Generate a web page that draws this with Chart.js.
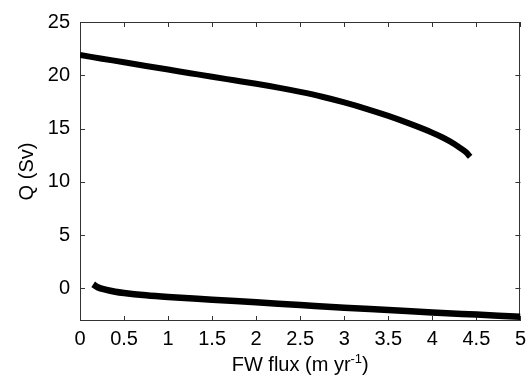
<!DOCTYPE html>
<html>
<head>
<meta charset="utf-8">
<script src="https://cdn.jsdelivr.net/npm/chart.js@4/dist/chart.umd.min.js"></script>
<style>
  html, body { margin: 0; padding: 0; background: #fff; }
  #wrap { width: 532px; height: 386px; }
</style>
</head>
<body>
<div id="wrap"><canvas id="c" width="532" height="386"></canvas></div>
<script>
// Upper (thermally driven) branch: freshwater flux vs overturning
const upperFlux = [0, 0.25, 0.5, 0.75, 1.0, 1.25, 1.5, 1.75, 2.0, 2.25, 2.5, 2.75, 3.0, 3.25, 3.5, 3.75, 4.0, 4.1, 4.2, 4.3, 4.38, 4.43];
const upperQ    = [21.9, 21.56, 21.22, 20.88, 20.54, 20.2, 19.86, 19.53, 19.2, 18.84, 18.44, 17.99, 17.46, 16.86, 16.19, 15.44, 14.62, 14.24, 13.8, 13.28, 12.8, 12.35];

// Lower (haline driven) branch
const lowerFlux = [0.15, 0.2, 0.3, 0.4, 0.5, 0.75, 1.0, 1.5, 2.0, 2.5, 3.0, 3.5, 4.0, 4.5, 5.0];
const lowerQ    = [0.4, 0.12, -0.13, -0.3, -0.42, -0.64, -0.8, -1.05, -1.3, -1.55, -1.8, -2.02, -2.25, -2.45, -2.65];

// Axis ticks
const xTicks = [0, 0.5, 1, 1.5, 2, 2.5, 3, 3.5, 4, 4.5, 5];
const yTicks = [0, 5, 10, 15, 20, 25];

const FONT = "'Liberation Sans', Arial, Helvetica, sans-serif";

const toPoints = (xs, ys) => xs.map((x, i) => ({ x: x, y: ys[i] }));

// Frame with inward tick marks on all four sides
const framePlugin = {
  id: 'frame',
  beforeDatasetsDraw(chart) {
    const { ctx, chartArea: a, scales } = chart;
    const len = 5;
    ctx.save();
    ctx.strokeStyle = '#333';
    ctx.lineWidth = 1;
    ctx.strokeRect(Math.round(a.left) + 0.5, Math.round(a.top) + 0.5,
                   Math.round(a.right - a.left) - 1, Math.round(a.bottom - a.top) - 1);
    ctx.beginPath();
    scales.x.ticks.forEach(t => {
      const px = Math.round(scales.x.getPixelForValue(t.value)) + 0.5;
      ctx.moveTo(px, a.bottom); ctx.lineTo(px, a.bottom - len);
      ctx.moveTo(px, a.top); ctx.lineTo(px, a.top + len);
    });
    scales.y.ticks.forEach(t => {
      const py = Math.round(scales.y.getPixelForValue(t.value)) + 0.5;
      ctx.moveTo(a.left, py); ctx.lineTo(a.left + len, py);
      ctx.moveTo(a.right, py); ctx.lineTo(a.right - len, py);
    });
    ctx.stroke();
    ctx.restore();
  },
  afterDraw(chart) {
    // x-axis title with a superscript exponent
    const { ctx, chartArea: a } = chart;
    const main = 'FW flux (m yr';
    const sup = '-1';
    const tail = ')';
    ctx.save();
    ctx.fillStyle = '#000';
    ctx.textBaseline = 'alphabetic';
    ctx.font = '20px ' + FONT;
    const wMain = ctx.measureText(main).width;
    const wTail = ctx.measureText(tail).width;
    ctx.font = '13px ' + FONT;
    const wSup = ctx.measureText(sup).width;
    const total = wMain + wSup + wTail;
    let x = (a.left + a.right) / 2 - total / 2;
    const base = 371;
    ctx.font = '20px ' + FONT;
    ctx.textAlign = 'left';
    ctx.fillText(main, x, base);
    x += wMain;
    ctx.font = '13px ' + FONT;
    ctx.fillText(sup, x, base - 8);
    x += wSup;
    ctx.font = '20px ' + FONT;
    ctx.fillText(tail, x, base);
    ctx.restore();
  }
};

new Chart(document.getElementById('c'), {
  type: 'scatter',
  data: {
    datasets: [
      {
        data: toPoints(upperFlux, upperQ),
        showLine: true,
        borderColor: '#000',
        borderWidth: 6,
        pointRadius: 0,
        cubicInterpolationMode: 'monotone',
        borderCapStyle: 'butt'
      },
      {
        data: toPoints(lowerFlux, lowerQ),
        showLine: true,
        borderColor: '#000',
        borderWidth: 6.5,
        pointRadius: 0,
        cubicInterpolationMode: 'monotone',
        borderCapStyle: 'butt'
      }
    ]
  },
  options: {
    responsive: false,
    animation: false,
    events: [],
    layout: { padding: { left: 0, right: 9, top: 16, bottom: 0 } },
    plugins: {
      legend: { display: false },
      tooltip: { enabled: false }
    },
    scales: {
      x: {
        type: 'linear',
        min: 0,
        max: 5,
        afterBuildTicks: s => { s.ticks = xTicks.map(v => ({ value: v })); },
        afterFit: s => { s.height = 65; },
        grid: { display: false, drawTicks: false, tickLength: 0 },
        border: { display: false },
        ticks: {
          color: '#000',
          padding: 6,
          maxRotation: 0,
          autoSkip: false,
          callback: v => String(v),
          font: { family: FONT, size: 20 }
        }
      },
      y: {
        type: 'linear',
        min: -3.05,
        max: 25,
        afterBuildTicks: s => { s.ticks = yTicks.map(v => ({ value: v })); },
        afterFit: s => { s.width = 80; },
        grid: { display: false, drawTicks: false, tickLength: 0 },
        border: { display: false },
        ticks: {
          color: '#000',
          padding: 10,
          autoSkip: false,
          callback: v => String(v),
          font: { family: FONT, size: 20 }
        },
        title: {
          display: true,
          text: 'Q (Sv)',
          color: '#000',
          padding: { top: 15, bottom: 0 },
          font: { family: FONT, size: 20 }
        }
      }
    }
  },
  plugins: [framePlugin]
});
</script>
</body>
</html>
